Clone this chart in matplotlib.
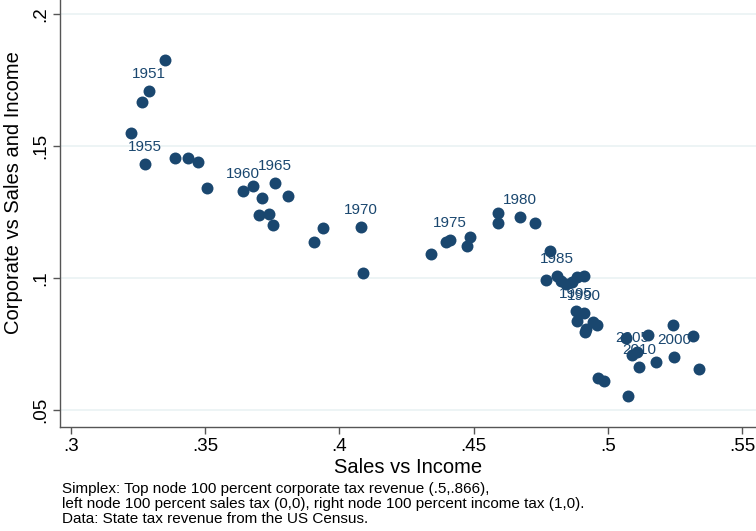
import matplotlib
matplotlib.use("Agg")
import matplotlib.pyplot as plt

plt.rcParams['font.family'] = ['Liberation Sans', 'DejaVu Sans']

# Simplex coordinates of the state tax mix, one point per year
sales_vs_income = [
    0.3350, 0.3291, 0.3265, 0.3224, 0.3276, 0.3388, 0.3436, 0.3473, 0.3507,
    0.3641, 0.3678, 0.3712, 0.3760, 0.3809, 0.3700, 0.3738, 0.3753,
    0.3939, 0.3905, 0.4081, 0.4088,
    0.4341, 0.4397, 0.4412, 0.4487, 0.4475,
    0.4591, 0.4591, 0.4673, 0.4729,
    0.4785, 0.4770, 0.4811, 0.4826, 0.4844, 0.4867, 0.4885, 0.4911,
    0.4882, 0.4911, 0.4885, 0.4915, 0.4919, 0.4945, 0.4960,
    0.5068, 0.5150, 0.5243, 0.5317, 0.5090, 0.5109, 0.5116, 0.5180,
    0.5247, 0.5340, 0.4964, 0.4986, 0.5075,
]
corp_vs_sales_income = [
    0.1826, 0.1708, 0.1667, 0.1549, 0.1432, 0.1455, 0.1455, 0.1439, 0.1341,
    0.1330, 0.1349, 0.1303, 0.1360, 0.1311, 0.1239, 0.1242, 0.1201,
    0.1189, 0.1136, 0.1193, 0.1019,
    0.1091, 0.1136, 0.1144, 0.1155, 0.1121,
    0.1246, 0.1208, 0.1231, 0.1208,
    0.1102, 0.0992, 0.1008, 0.0989, 0.0977, 0.0985, 0.1004, 0.1008,
    0.0875, 0.0867, 0.0837, 0.0796, 0.0807, 0.0833, 0.0822,
    0.0773, 0.0784, 0.0822, 0.0780, 0.0708, 0.0720, 0.0663, 0.0682,
    0.0701, 0.0655, 0.0621, 0.0610, 0.0553,
]
year_labels = [
    '', '1951', '', '', '1955', '', '', '', '',
    '1960', '', '', '1965', '', '', '', '',
    '', '', '1970', '',
    '', '', '1975', '', '',
    '', '', '1980', '',
    '', '', '1985', '', '', '', '', '',
    '1995', '1990', '', '', '', '', '',
    '', '', '', '', '2005', '', '2010', '',
    '2000', '', '', '', '',
]

x_ticks = [0.30, 0.35, 0.40, 0.45, 0.50, 0.55]
x_tick_labels = ['.3', '.35', '.4', '.45', '.5', '.55']
y_ticks = [0.05, 0.10, 0.15, 0.20]
y_tick_labels = ['.05', '.1', '.15', '.2']

navy = '#1a476f'

fig = plt.figure(figsize=(7.56, 5.31), dpi=100)
ax = fig.add_axes([60 / 756, 1 - 427 / 531, 1 - 60 / 756, 427 / 531])

ax.scatter(sales_vs_income, corp_vs_sales_income, s=74, color=navy,
           linewidths=0, zorder=3)
for x, y, lab in zip(sales_vs_income, corp_vs_sales_income, year_labels):
    if lab:
        ax.annotate(lab, (x, y), xytext=(0, 12.5), textcoords='offset points',
                    ha='center', va='center', color=navy, fontsize=11,
                    zorder=4)

ax.set_xlim(0.2959, 0.5552)
ax.set_ylim(0.0436, 0.2053)
ax.set_xticks(x_ticks)
ax.set_xticklabels(x_tick_labels, fontsize=13.5)
ax.set_yticks(y_ticks)
ax.set_yticklabels(y_tick_labels, fontsize=13.5, rotation=90, va='center')

ax.grid(axis='y', color='#eaf2f3', linewidth=1.2, zorder=0)
ax.set_axisbelow(True)
for side in ('top', 'right'):
    ax.spines[side].set_visible(False)
for side in ('left', 'bottom'):
    ax.spines[side].set_color('#555555')
    ax.spines[side].set_linewidth(1.0)
ax.tick_params(direction='out', length=5, width=1, color='#555555', pad=3)

ax.set_xlabel('Sales vs Income', fontsize=14.5, labelpad=2)
fig.text(14 / 756, 1 - 193 / 531, 'Corporate vs Sales and Income',
         rotation=90, ha='center', va='center', fontsize=14.5)

notes = ('Simplex: Top node 100 percent corporate tax revenue (.5,.866),\n'
         'left node 100 percent sales tax (0,0), right node 100 percent income tax (1,0).\n'
         'Data: State tax revenue from the US Census.')
fig.text(62 / 756, 1 - 482 / 531, notes, ha='left', va='top', fontsize=11,
         linespacing=1.1)

fig.savefig('out.png', dpi=100)
